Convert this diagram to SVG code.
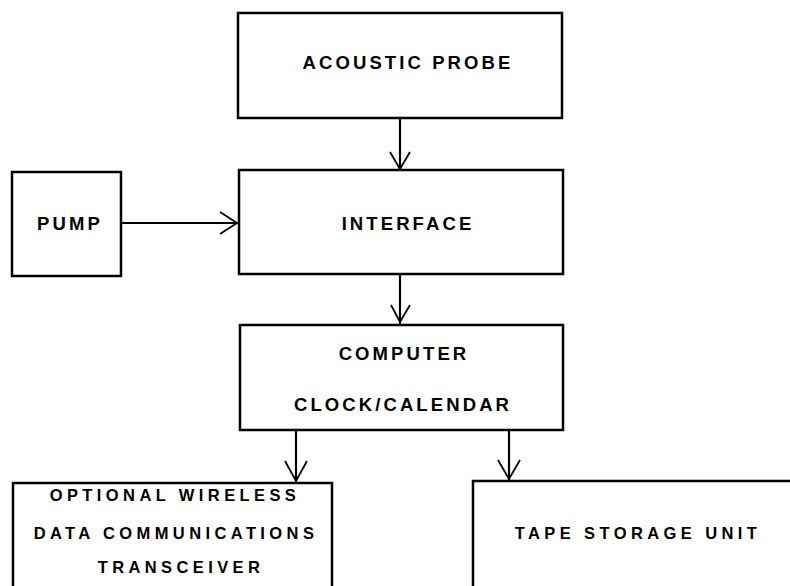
<svg xmlns="http://www.w3.org/2000/svg" width="790" height="586" viewBox="0 0 790 586">
<style>
.box{fill:#fff;stroke:#000;stroke-width:2.5}
.lbl{font-family:"Liberation Sans",Arial,sans-serif;font-weight:bold;text-anchor:middle;fill:#000}
.big{font-size:18.5px;letter-spacing:3.1px}
.sm{font-size:16.5px;letter-spacing:4.4px}
.ln{fill:none;stroke:#000;stroke-width:2.2}
.hd{fill:none;stroke:#000;stroke-width:1.8;stroke-linejoin:miter}
</style>
<rect width="790" height="586" fill="#fff"/>
<g id="acoustic-probe">
<rect class="box" x="238" y="13" width="324" height="105"/>
<text class="lbl big" x="408" y="69">ACOUSTIC PROBE</text>
</g>
<g id="pump">
<rect class="box" x="12" y="172" width="109" height="104"/>
<text class="lbl big" x="70" y="230">PUMP</text>
</g>
<g id="interface">
<rect class="box" x="239" y="170" width="324" height="104"/>
<text class="lbl big" x="408" y="230">INTERFACE</text>
</g>
<g id="computer">
<rect class="box" x="240" y="325" width="323" height="105"/>
<text class="lbl big" x="404" y="360">COMPUTER</text>
<text class="lbl big" x="403" y="411">CLOCK/CALENDAR</text>
</g>
<g id="wireless">
<rect class="box" x="13" y="483" width="319" height="120"/>
<text class="lbl sm" x="175" y="501">OPTIONAL WIRELESS</text>
<text class="lbl sm" x="176" y="539">DATA COMMUNICATIONS</text>
<text class="lbl sm" x="181" y="573">TRANSCEIVER</text>
</g>
<g id="tape-storage">
<rect class="box" x="473" y="481" width="340" height="120"/>
<text class="lbl sm" x="638" y="539">TAPE STORAGE UNIT</text>
</g>
<g id="connectors">
<line class="ln" x1="400" y1="118" x2="400" y2="169"/>
<path class="hd" d="M390,152 L400,169 L410,152"/>
<line class="ln" x1="121" y1="223" x2="238" y2="223"/>
<path class="hd" d="M220,212 L237,223 L220,234"/>
<line class="ln" x1="400" y1="274" x2="400" y2="324"/>
<path class="hd" d="M391,305 L400,322 L410,305"/>
<line class="ln" x1="296" y1="430" x2="296" y2="482"/>
<path class="hd" d="M285,461 L296,481 L307,461"/>
<line class="ln" x1="509" y1="430" x2="509" y2="480"/>
<path class="hd" d="M498,460 L509,479 L520,460"/>
</g>
</svg>
